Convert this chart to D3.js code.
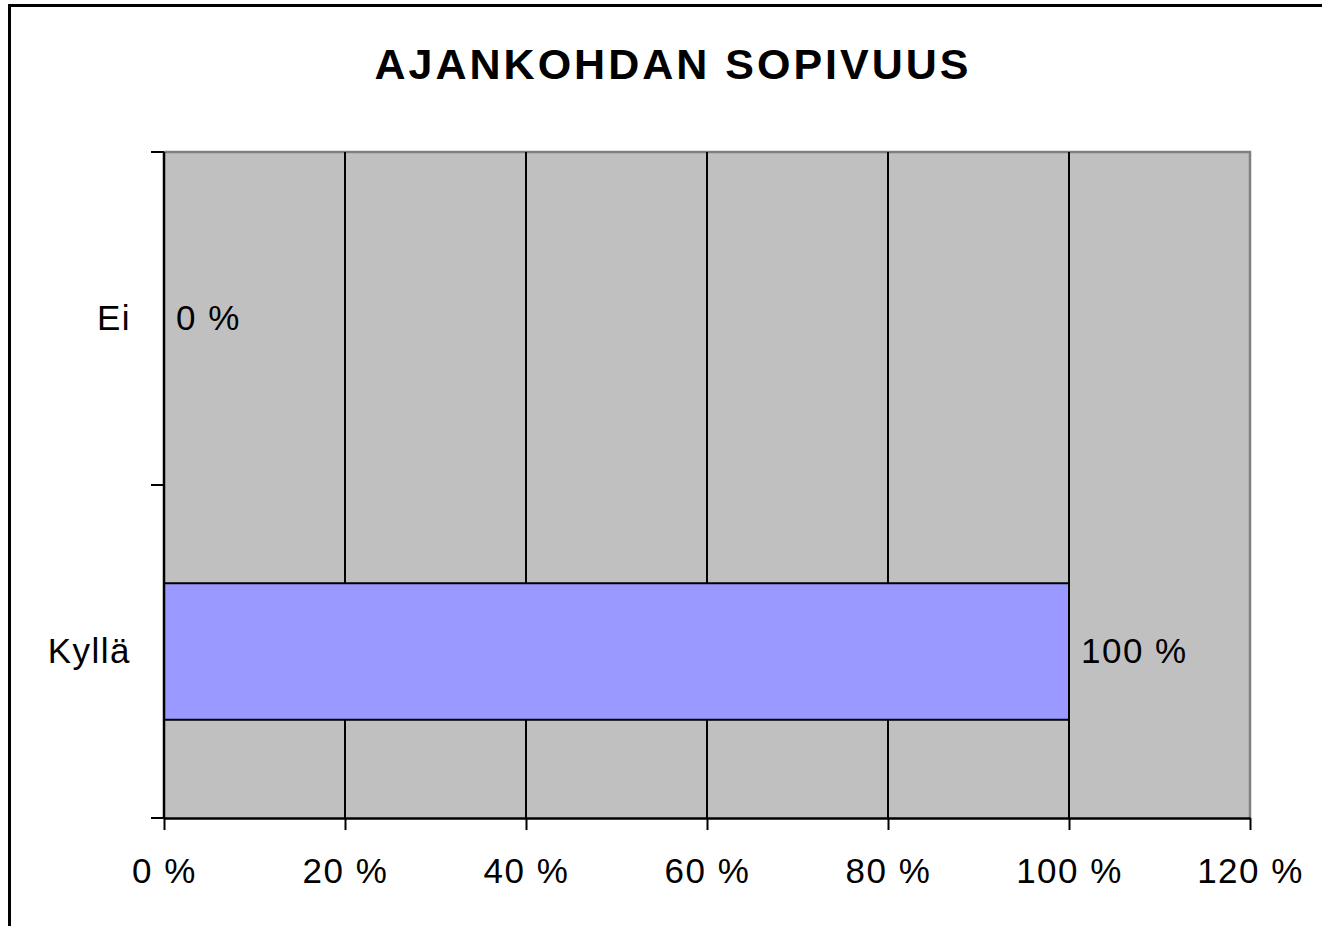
<!DOCTYPE html>
<html>
<head>
<meta charset="utf-8">
<script src="https://cdn.jsdelivr.net/npm/d3@7"></script>
<style>
  body { margin: 0; background: #fff; }
  svg { display: block; font-family: Arial, "Liberation Sans", sans-serif; }
</style>
</head>
<body>
<div id="chart"></div>
<script>
// data
let title = "AJANKOHDAN SOPIVUUS";
let categories = ["Ei", "Kyllä"];
let values = [0, 100];
let xTicks = [0, 20, 40, 60, 80, 100, 120];

let width = 1322, height = 926;
let margin = {top: 152, right: 72, bottom: 108, left: 164};
let w = width - margin.left - margin.right;   // 1086
let h = height - margin.top - margin.bottom;  // 666

let svg = d3.select('#chart')
    .append('svg')
    .attr('width', width)
    .attr('height', height);

// outer frame (runs off the page on right / bottom)
svg.append('rect')
    .attr('x', 9.5).attr('y', 5.5)
    .attr('width', 1340).attr('height', 960)
    .attr('fill', 'none')
    .attr('stroke', '#000')
    .attr('stroke-width', 3);

svg.append('text')
    .attr('x', 673).attr('y', 79)
    .attr('text-anchor', 'middle')
    .style('font-size', '43px')
    .style('font-weight', 'bold')
    .style('letter-spacing', '3px')
    .text(title);

let g = svg.append('g')
    .attr('transform', "translate(" + margin.left + "," + margin.top + ")");

let x = d3.scaleLinear()
    .domain([0, 120])
    .range([0, w]);

let y = d3.scaleBand()
    .domain(categories)
    .range([0, h])
    .padding(0);

// plot background
g.append('rect')
    .attr('width', w).attr('height', h)
    .attr('fill', '#c0c0c0');

// top / right border of plot area
g.append('path')
    .attr('d', "M0,0H" + w + "V" + h)
    .attr('fill', 'none')
    .attr('stroke', '#808080')
    .attr('stroke-width', 2.5);

// vertical gridlines
g.selectAll('.grid')
    .data(xTicks.filter(d => d > 0 && d < 120))
    .enter()
    .append('line')
    .attr('class', 'grid')
    .attr('x1', d => x(d)).attr('x2', d => x(d))
    .attr('y1', 0).attr('y2', h)
    .attr('stroke', '#000')
    .attr('stroke-width', 2);

// bars
let barH = y.bandwidth() * 0.41;
g.selectAll('.bar')
    .data(categories)
    .enter()
    .append('rect')
    .attr('class', 'bar')
    .attr('x', x(0))
    .attr('y', d => y(d) + y.bandwidth() / 2 - barH / 2)
    .attr('width', (d, i) => x(values[i]) - x(0))
    .attr('height', barH)
    .attr('fill', '#9999ff')
    .attr('stroke', '#000')
    .attr('stroke-width', 2)
    .style('display', (d, i) => values[i] > 0 ? null : 'none');

// value labels
g.selectAll('.val')
    .data(categories)
    .enter()
    .append('text')
    .attr('class', 'val')
    .attr('x', (d, i) => x(values[i]) + 12)
    .attr('y', d => y(d) + y.bandwidth() / 2 + 11.5)
    .style('font-size', '35px')
    .style('letter-spacing', '1.5px')
    .text((d, i) => values[i] + " %");

// category labels
g.selectAll('.cat')
    .data(categories)
    .enter()
    .append('text')
    .attr('class', 'cat')
    .attr('x', -33)
    .attr('y', d => y(d) + y.bandwidth() / 2 + 11.5)
    .attr('text-anchor', 'end')
    .style('font-size', '35px')
    .style('letter-spacing', '1.5px')
    .text(d => d);

// y axis line + ticks at band edges
let yEdges = [0].concat(categories.map(d => y(d) + y.bandwidth()));
g.selectAll('.ytick')
    .data(yEdges)
    .enter()
    .append('line')
    .attr('x1', -13).attr('x2', 0)
    .attr('y1', d => d).attr('y2', d => d)
    .attr('stroke', '#000')
    .attr('stroke-width', 2);
g.append('line')
    .attr('x1', 0).attr('x2', 0)
    .attr('y1', 0).attr('y2', h)
    .attr('stroke', '#000')
    .attr('stroke-width', 2.5);

// x axis
let xAxis = d3.axisBottom(x)
    .tickValues(xTicks)
    .tickSize(12)
    .tickSizeOuter(0)
    .tickPadding(28)
    .tickFormat(d => d + " %");

let ax = g.append('g')
    .attr('transform', "translate(0," + h + ")")
    .call(xAxis);
ax.select('.domain').attr('stroke', '#000').attr('stroke-width', 2.5);
ax.selectAll('.tick line').attr('stroke', '#000').attr('stroke-width', 2);
ax.selectAll('text')
    .attr('fill', '#000')
    .style('font-size', '35px')
    .style('letter-spacing', '1.5px')
    .style('font-family', 'Arial, "Liberation Sans", sans-serif');
</script>
</body>
</html>
